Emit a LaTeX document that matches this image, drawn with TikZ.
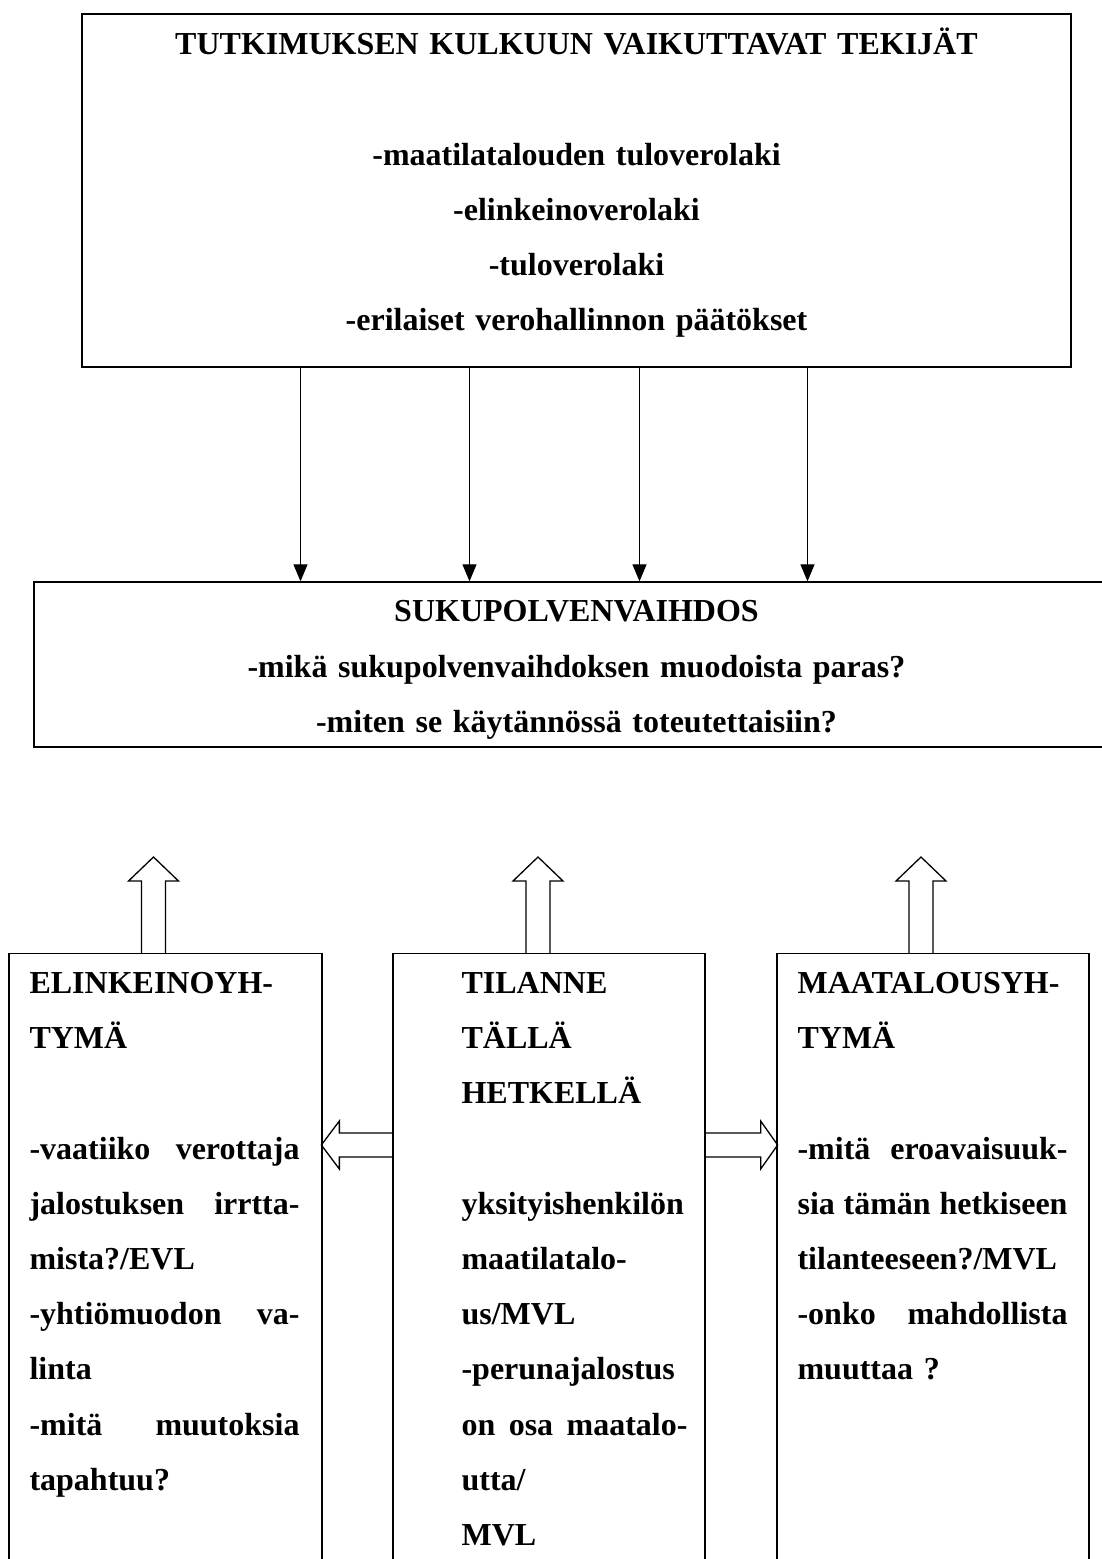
\documentclass[tikz,border=0pt]{standalone}
\usepackage{fontspec}
\setmainfont{Liberation Serif}
\usetikzlibrary{arrows.meta}
\newcommand{\fitline}[2]{\leavevmode\hbox to #1{#2}}
\begin{document}
\begin{tikzpicture}
[x=1pt,y=-1pt,
  boxdecorate/.style={shape=rectangle,draw,line width=1.3pt,inner sep=0pt},%
  textdecorate/.style={inner sep=0pt,font=\fontsize{32}{55.2}\selectfont\bfseries},%
  arrowdecorate/.style={-{Triangle[length=17pt,width=14pt]},line width=1.1pt},%
  blockdecorate/.style={draw,line width=1.3pt,line join=miter}]
\useasboundingbox (0,0) rectangle (1101,1559);
% boxes
\node (tekijat) at (576.5,190.5) [boxdecorate,minimum width=989pt,minimum height=353pt] {};
\node (sukupolvi) at (576.5,664.5) [boxdecorate,minimum width=1085pt,minimum height=165pt] {};
\node (elinkeino) at (165.5,953) [boxdecorate,anchor=north,minimum width=313pt,minimum height=660pt] {};
\node (tilanne) at (549,953) [boxdecorate,anchor=north,minimum width=312pt,minimum height=660pt] {};
\node (maatalous) at (933,953) [boxdecorate,anchor=north,minimum width=312pt,minimum height=660pt] {};
% texts
\node (tekijatteksti) at ([yshift=-41.5pt]tekijat.north) [textdecorate,anchor=base,text width=980pt,align=center]
  {TUTKIMUKSEN KULKUUN VAIKUTTAVAT TEKIJÄT\\ \mbox{}\\ -maatilatalouden tuloverolaki\\
   -elinkeinoverolaki\\ -tuloverolaki\\ -erilaiset verohallinnon päätökset};
\node (sukupolviteksti) at ([yshift=-40.5pt]sukupolvi.north) [textdecorate,anchor=base,text width=1000pt,align=center]
  {SUKUPOLVENVAIHDOS\\ -mikä sukupolvenvaihdoksen muodoista paras?\\ -miten se käytännössä toteutettaisiin?};
\node (elinkeinoteksti) at ([xshift=21pt,yshift=-40.5pt]elinkeino.north west) [textdecorate,anchor=base west,text width=275pt,align=left]
  {ELINKEINOYH-\\ TYMÄ\\ \mbox{}\\ \fitline{270pt}{-vaatiiko\hfill verottaja}\\ \fitline{270pt}{jalostuksen\hfill irrtta-}\\
   mista?/EVL\\ \fitline{270pt}{-yhtiömuodon\hfill va-}\\ linta\\ \fitline{270pt}{-mitä\hfill muutoksia}\\ tapahtuu?};
\node (tilanneteksti) at ([xshift=69pt,yshift=-40.5pt]tilanne.north west) [textdecorate,anchor=base west,text width=232pt,align=left]
  {TILANNE\\ TÄLLÄ\\ HETKELLÄ\\ \mbox{}\\ yksityishenkilön\\ maatilatalo-\\ us/MVL\\ -perunajalostus\\
   \fitline{226pt}{on\hfill osa\hfill maatalo-}\\ utta/\\ MVL};
\node (maatalousteksti) at ([xshift=21pt,yshift=-40.5pt]maatalous.north west) [textdecorate,anchor=base west,text width=275pt,align=left]
  {MAATALOUSYH-\\ TYMÄ\\ \mbox{}\\ \fitline{270pt}{-mitä\hfill eroavaisuuk-}\\ \fitline{270pt}{sia\hfill tämän\hfill hetkiseen}\\
   tilanteeseen?/MVL\\ \fitline{270pt}{-onko\hfill mahdollista}\\ muuttaa ?};
% edges or lines
\path
([xshift=-276pt]tekijat.south) edge[arrowdecorate] ([xshift=-276pt]sukupolvi.north)
([xshift=-107pt]tekijat.south) edge[arrowdecorate] ([xshift=-107pt]sukupolvi.north)
([xshift=63pt]tekijat.south) edge[arrowdecorate] ([xshift=63pt]sukupolvi.north)
([xshift=231pt]tekijat.south) edge[arrowdecorate] ([xshift=231pt]sukupolvi.north);
% hollow arrows
\draw[blockdecorate] ([xshift=-24pt]elinkeino.north) -- ++(0,-72) -- ++(-13,0) -- ++(25,-24) -- ++(25,24) -- ++(-13,0) -- ++(0,72);
\draw[blockdecorate] ([xshift=-23pt]tilanne.north) -- ++(0,-72) -- ++(-13,0) -- ++(25,-24) -- ++(25,24) -- ++(-13,0) -- ++(0,72);
\draw[blockdecorate] ([xshift=-24pt]maatalous.north) -- ++(0,-72) -- ++(-13,0) -- ++(25,-24) -- ++(25,24) -- ++(-13,0) -- ++(0,72);
\draw[blockdecorate] ([yshift=-180pt]tilanne.north west) -- ++(-53,0) -- ++(0,-12) -- ++(-18,24) -- ++(18,24) -- ++(0,-12) -- ++(53,0);
\draw[blockdecorate] ([yshift=-180pt]tilanne.north east) -- ++(55,0) -- ++(0,-12) -- ++(17,24) -- ++(-17,24) -- ++(0,-12) -- ++(-55,0);
\end{tikzpicture}
\end{document}
